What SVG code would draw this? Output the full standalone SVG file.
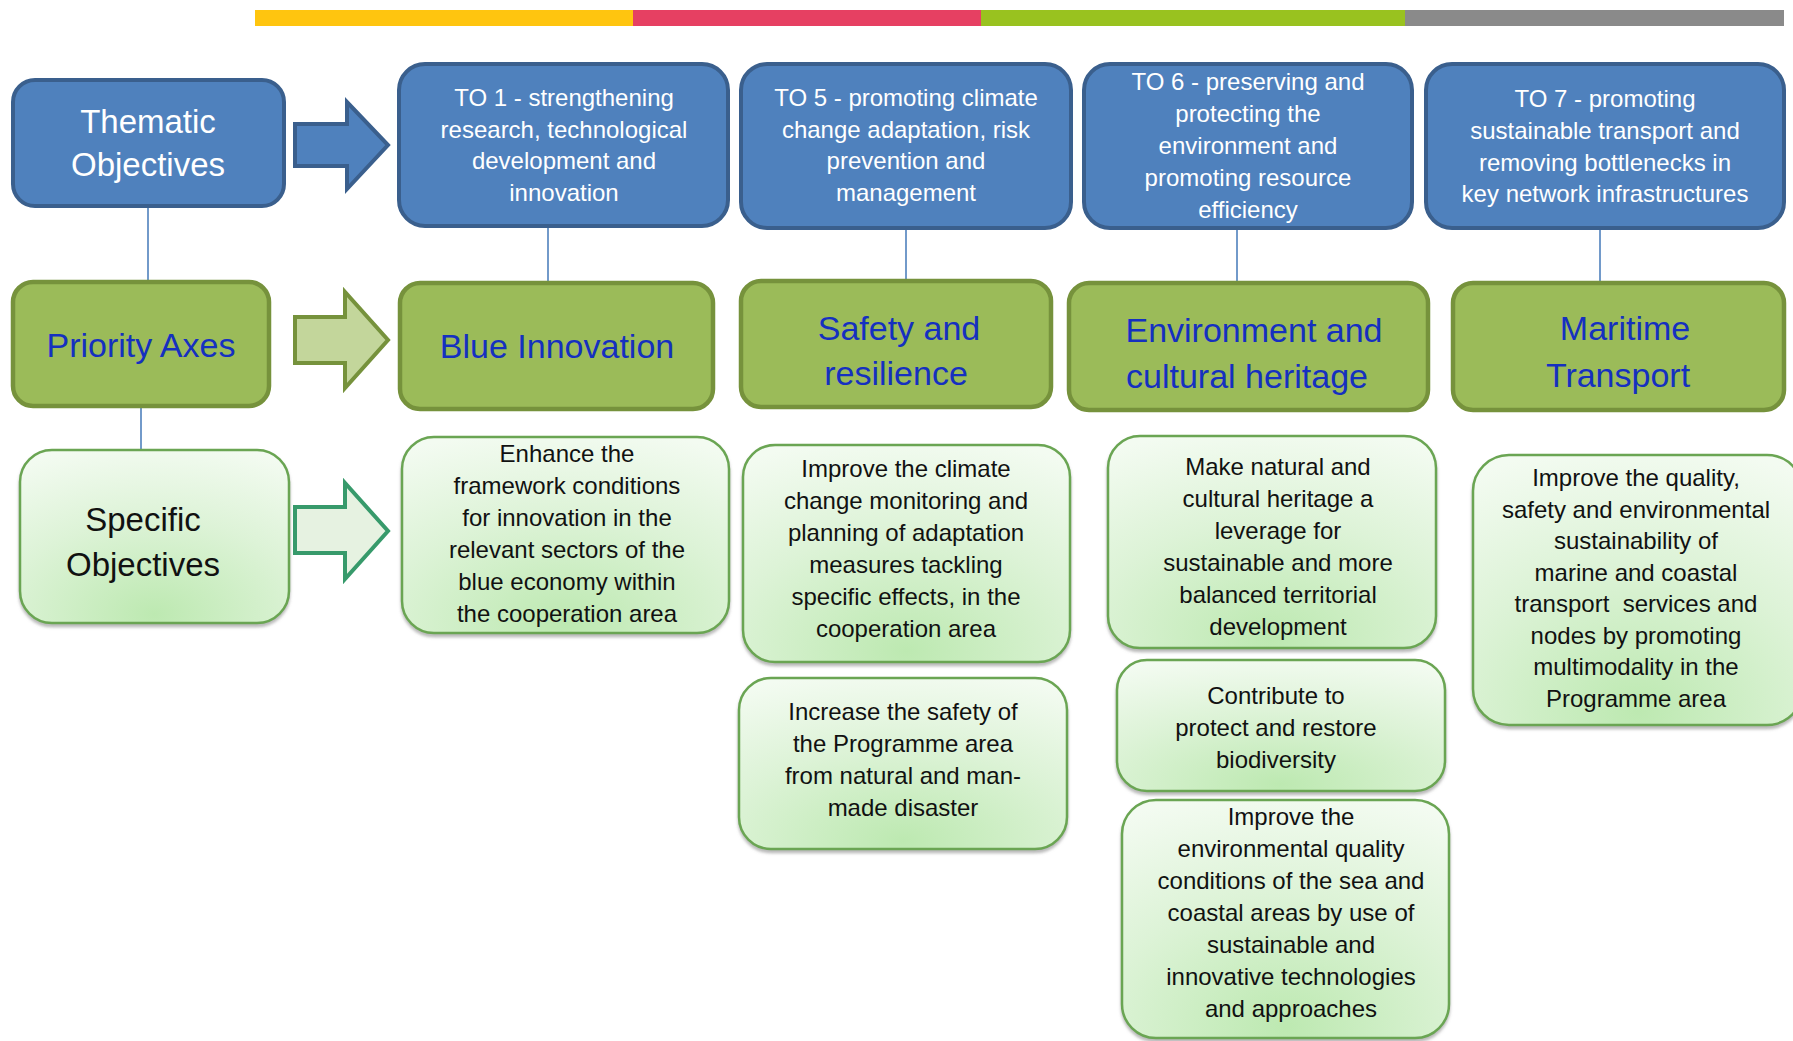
<svg xmlns="http://www.w3.org/2000/svg" width="1793" height="1041" viewBox="0 0 1793 1041">
<defs>
<radialGradient id="lg" cx="0.5" cy="1" r="1.05" fx="0.5" fy="0.95">
<stop offset="0" stop-color="#BDE9B1"/>
<stop offset="0.55" stop-color="#DDF3D7"/>
<stop offset="1" stop-color="#F3FBF1"/>
</radialGradient>
<filter id="sh" x="-5%" y="-5%" width="110%" height="115%">
<feDropShadow dx="0" dy="3" stdDeviation="1.5" flood-color="#808080" flood-opacity="0.55"/>
</filter>
</defs>
<style>
.blue{fill:#4F81BD;stroke:#3A5F8D;stroke-width:4}
.grn{fill:#9BBB59;stroke:#76923C;stroke-width:4.5}
.lt{fill:url(#lg);stroke:#6AA552;stroke-width:2.5;filter:url(#sh)}
text{font-family:"Liberation Sans",Arial,sans-serif;text-anchor:middle}
.wt{fill:#FFFFFF;font-size:24px}
.wh{fill:#FFFFFF;font-size:33px}
.bt{fill:#1530C0;font-size:34px}
.kt{fill:#111111;font-size:24px}
.kh{fill:#111111;font-size:33px}
.ln{stroke:#4F81BD;stroke-width:1.6;fill:none}
</style>
<rect x="0" y="0" width="1793" height="1041" fill="#FFFFFF"/>
<g id="topbar">
<rect x="255" y="10" width="378" height="16" fill="#FFC50F"/>
<rect x="633" y="10" width="348" height="16" fill="#E64062"/>
<rect x="981" y="10" width="424" height="16" fill="#99C21F"/>
<rect x="1405" y="10" width="379" height="16" fill="#8A8A8A"/>
</g>
<g id="connectors">
<line class="ln" x1="148" y1="206" x2="148" y2="282"/>
<line class="ln" x1="141" y1="406" x2="141" y2="451"/>
<line class="ln" x1="548" y1="226" x2="548" y2="283"/>
<line class="ln" x1="906" y1="228" x2="906" y2="281"/>
<line class="ln" x1="1237" y1="228" x2="1237" y2="283"/>
<line class="ln" x1="1600" y1="228" x2="1600" y2="283"/>
<polygon points="295,124 347,124 347,102 388,145 347,189 347,166 295,166" fill="#4F81BD" stroke="#3A5F8D" stroke-width="4" stroke-linejoin="miter"/>
<polygon points="295,317 345,317 345,292 388,340 345,388 345,363 295,363" fill="#C3D69B" stroke="#76923C" stroke-width="4"/>
<polygon points="295,507 345,507 345,483 388,531 345,579 345,553 295,553" fill="#E6F2E1" stroke="#379A6B" stroke-width="4"/>
</g>
<g id="thematic">
<rect class="blue" x="13" y="80" width="271" height="126" rx="22"/>
<text class="wh" x="148" y="133">Thematic</text>
<text class="wh" x="148" y="176">Objectives</text>
</g>
<g id="to1">
<rect class="blue" x="399" y="64" width="329" height="162" rx="26"/>
<text class="wt" x="564" y="106">TO 1 - strengthening</text>
<text class="wt" x="564" y="137.5">research, technological</text>
<text class="wt" x="564" y="169">development and</text>
<text class="wt" x="564" y="200.5">innovation</text>
</g>
<g id="to5">
<rect class="blue" x="741" y="64" width="330" height="164" rx="26"/>
<text class="wt" x="906" y="106">TO 5 - promoting climate</text>
<text class="wt" x="906" y="137.5">change adaptation, risk</text>
<text class="wt" x="906" y="169">prevention and</text>
<text class="wt" x="906" y="200.5">management</text>
</g>
<g id="to6">
<rect class="blue" x="1084" y="64" width="328" height="164" rx="26"/>
<text class="wt" x="1248" y="90">TO 6 - preserving and</text>
<text class="wt" x="1248" y="122">protecting the</text>
<text class="wt" x="1248" y="154">environment and</text>
<text class="wt" x="1248" y="186">promoting resource</text>
<text class="wt" x="1248" y="218">efficiency</text>
</g>
<g id="to7">
<rect class="blue" x="1426" y="64" width="358" height="164" rx="26"/>
<text class="wt" x="1605" y="107">TO 7 - promoting</text>
<text class="wt" x="1605" y="139">sustainable transport and</text>
<text class="wt" x="1605" y="171">removing bottlenecks in</text>
<text class="wt" x="1605" y="202">key network infrastructures</text>
</g>
<g id="priority">
<rect class="grn" x="13" y="282" width="256" height="124" rx="20"/>
<text class="bt" x="141" y="357">Priority Axes</text>
</g>
<g id="blueinnovation">
<rect class="grn" x="400" y="283" width="313" height="126" rx="20"/>
<text class="bt" x="557" y="358">Blue Innovation</text>
</g>
<g id="safety">
<rect class="grn" x="741" y="281" width="310" height="126" rx="20"/>
<text class="bt" x="899" y="340">Safety and</text>
<text class="bt" x="896" y="385">resilience</text>
</g>
<g id="environment">
<rect class="grn" x="1069" y="283" width="359" height="127" rx="20"/>
<text class="bt" x="1254" y="342">Environment and</text>
<text class="bt" x="1247" y="388">cultural heritage</text>
</g>
<g id="maritime">
<rect class="grn" x="1453" y="283" width="331" height="127" rx="20"/>
<text class="bt" x="1625" y="340">Maritime</text>
<text class="bt" x="1618" y="387">Transport</text>
</g>
<g id="specific">
<rect class="lt" x="20" y="450" width="269" height="173" rx="32"/>
<text class="kh" x="143" y="531">Specific</text>
<text class="kh" x="143" y="576">Objectives</text>
</g>
<g id="so-enhance">
<rect class="lt" x="402" y="437" width="327" height="196" rx="32"/>
<text class="kt" x="567" y="462">Enhance the</text>
<text class="kt" x="567" y="494">framework conditions</text>
<text class="kt" x="567" y="526">for innovation in the</text>
<text class="kt" x="567" y="558">relevant sectors of the</text>
<text class="kt" x="567" y="590">blue economy within</text>
<text class="kt" x="567" y="622">the cooperation area</text>
</g>
<g id="so-climate">
<rect class="lt" x="743" y="445" width="327" height="217" rx="32"/>
<text class="kt" x="906" y="477">Improve the climate</text>
<text class="kt" x="906" y="509">change monitoring and</text>
<text class="kt" x="906" y="541">planning of adaptation</text>
<text class="kt" x="906" y="573">measures tackling</text>
<text class="kt" x="906" y="605">specific effects, in the</text>
<text class="kt" x="906" y="637">cooperation area</text>
</g>
<g id="so-safety">
<rect class="lt" x="739" y="678" width="328" height="171" rx="32"/>
<text class="kt" x="903" y="720">Increase the safety of</text>
<text class="kt" x="903" y="752">the Programme area</text>
<text class="kt" x="903" y="784">from natural and man-</text>
<text class="kt" x="903" y="816">made disaster</text>
</g>
<g id="so-heritage">
<rect class="lt" x="1108" y="436" width="328" height="212" rx="32"/>
<text class="kt" x="1278" y="475">Make natural and</text>
<text class="kt" x="1278" y="507">cultural heritage a</text>
<text class="kt" x="1278" y="539">leverage for</text>
<text class="kt" x="1278" y="571">sustainable and more</text>
<text class="kt" x="1278" y="603">balanced territorial</text>
<text class="kt" x="1278" y="635">development</text>
</g>
<g id="so-biodiversity">
<rect class="lt" x="1117" y="660" width="328" height="131" rx="30"/>
<text class="kt" x="1276" y="704">Contribute to</text>
<text class="kt" x="1276" y="736">protect and restore</text>
<text class="kt" x="1276" y="768">biodiversity</text>
</g>
<g id="so-envquality">
<rect class="lt" x="1122" y="800" width="327" height="238" rx="34"/>
<text class="kt" x="1291" y="825">Improve the</text>
<text class="kt" x="1291" y="857">environmental quality</text>
<text class="kt" x="1291" y="889">conditions of the sea and</text>
<text class="kt" x="1291" y="921">coastal areas by use of</text>
<text class="kt" x="1291" y="953">sustainable and</text>
<text class="kt" x="1291" y="985">innovative technologies</text>
<text class="kt" x="1291" y="1017">and approaches</text>
</g>
<g id="so-transport">
<rect class="lt" x="1473" y="455" width="330" height="270" rx="36"/>
<text class="kt" x="1636" y="486">Improve the quality,</text>
<text class="kt" x="1636" y="517.5">safety and environmental</text>
<text class="kt" x="1636" y="549">sustainability of</text>
<text class="kt" x="1636" y="580.5">marine and coastal</text>
<text class="kt" x="1636" y="612">transport&#160; services and</text>
<text class="kt" x="1636" y="643.5">nodes by promoting</text>
<text class="kt" x="1636" y="675">multimodality in the</text>
<text class="kt" x="1636" y="706.5">Programme area</text>
</g>
</svg>
